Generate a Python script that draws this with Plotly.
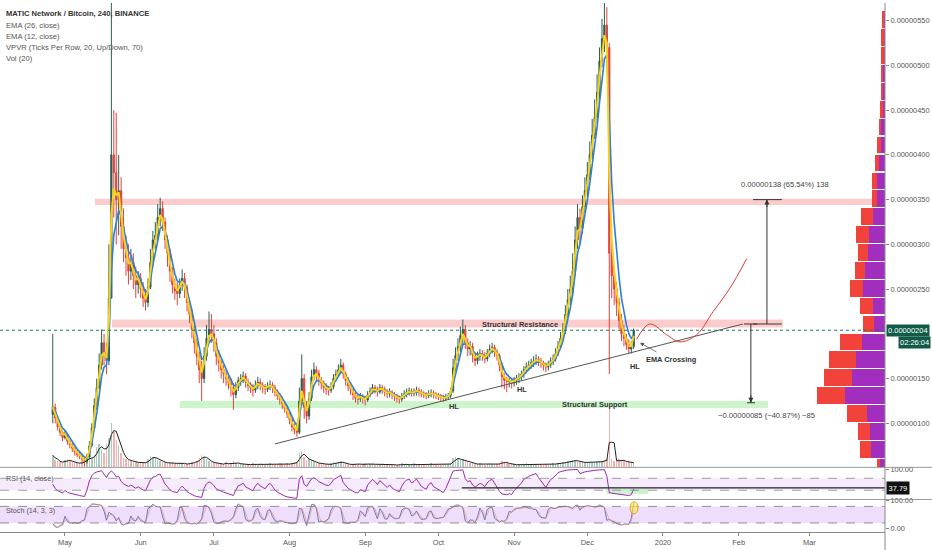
import numpy as np
import pandas as pd
import plotly.graph_objects as go

# ---------------- data (prices in satoshi = 1e-8 BTC) ----------------
SAT = 1e-8
first_date = "2019-04-26"
first_open = 110

closes = [
    118, 106, 96, 90, 84, 88, 80, 76, 72, 68,
    65, 63, 60, 57, 62, 75, 95, 120, 140, 165,
    190, 180, 170, 240, 400, 380, 350, 360, 320, 295,
    285, 270, 280, 265, 255, 262, 250, 240, 235, 252,
    280, 305, 310, 330, 340, 325, 305, 290, 270, 255,
    248, 245, 255, 262, 252, 235, 222, 205, 190, 175,
    160, 150, 175, 195, 205, 200, 190, 175, 168, 160,
    155, 150, 145, 140, 132, 140, 148, 150, 153, 146,
    142, 140, 137, 142, 146, 142, 140, 138, 141, 143,
    140, 135, 131, 127, 122, 117, 111, 104, 96, 93,
    90, 125, 150, 118, 108, 128, 152, 160, 156, 148,
    145, 140, 138, 137, 141, 150, 155, 160, 165, 155,
    148, 142, 138, 132, 128, 127, 130, 128, 126, 132,
    136, 140, 138, 135, 140, 138, 135, 133, 135, 132,
    130, 128, 127, 130, 133, 135, 136, 134, 135, 137,
    135, 133, 132, 131, 133, 134, 132, 131, 130, 129,
    128, 129, 131, 136, 162, 176, 186, 198, 205, 190,
    183, 186, 176, 170, 175, 178, 176, 172, 178, 183,
    185, 180, 176, 165, 152, 148, 147, 148, 145, 148,
    150, 152, 155, 160, 163, 165, 168, 170, 172, 170,
    168, 165, 163, 166, 170, 172, 178, 186, 195, 205,
    222, 238, 250, 270, 305, 330, 318, 342, 360, 378,
    400, 422, 442, 470, 505, 530, 545, 520, 290, 265,
    250, 235, 215, 200, 195, 188, 183, 186, 204,
]
highs = [
    200, 122, 108, 98, 92, 92, 89, 82, 78, 74,
    70, 68, 65, 62, 66, 80, 100, 128, 150, 178,
    205, 200, 190, 300, 640, 450, 447, 400, 375, 340,
    310, 300, 295, 290, 275, 270, 268, 258, 250, 262,
    295, 315, 325, 345, 352, 348, 330, 310, 295, 275,
    262, 258, 262, 272, 268, 255, 240, 228, 210, 195,
    180, 170, 185, 210, 225, 222, 210, 195, 182, 172,
    165, 160, 155, 150, 145, 146, 152, 155, 158, 156,
    150, 146, 144, 148, 152, 150, 146, 144, 146, 148,
    146, 143, 138, 134, 130, 125, 120, 114, 107, 100,
    97, 140, 177, 155, 125, 135, 160, 168, 164, 160,
    152, 148, 145, 142, 146, 155, 160, 166, 172, 168,
    158, 152, 146, 140, 135, 132, 134, 133, 131, 136,
    140, 144, 143, 141, 144, 143, 141, 138, 139, 137,
    135, 133, 131, 134, 137, 139, 140, 139, 139, 141,
    140, 138, 136, 135, 137, 138, 137, 135, 134, 133,
    132, 133, 134, 140, 172, 185, 195, 208, 216, 210,
    195, 192, 190, 180, 180, 183, 182, 180, 183, 188,
    190, 188, 183, 178, 168, 156, 152, 152, 151, 152,
    154, 156, 159, 164, 168, 170, 172, 175, 177, 175,
    173, 170, 168, 170, 174, 177, 184, 192, 202, 212,
    232, 250, 265, 290, 320, 345, 340, 355, 375, 392,
    415, 440, 462, 490, 520, 552, 572, 565, 525, 305,
    275, 258, 240, 222, 210, 200, 194, 192, 206,
]
lows = [
    100, 100, 92, 86, 80, 82, 76, 72, 68, 64,
    62, 60, 56, 52, 55, 60, 74, 94, 115, 138,
    160, 165, 155, 165, 240, 330, 300, 310, 295, 280,
    265, 255, 260, 250, 240, 245, 240, 230, 226, 230,
    250, 275, 295, 305, 320, 315, 295, 275, 258, 245,
    238, 232, 240, 248, 240, 225, 212, 195, 178, 165,
    145, 125, 145, 170, 190, 190, 180, 165, 158, 150,
    145, 142, 138, 130, 115, 128, 136, 142, 145, 140,
    136, 134, 130, 134, 138, 137, 134, 132, 135, 137,
    134, 130, 126, 121, 116, 112, 106, 99, 91, 88,
    85, 88, 120, 105, 100, 104, 125, 148, 148, 142,
    138, 134, 132, 131, 134, 138, 147, 152, 156, 150,
    142, 136, 132, 126, 123, 121, 124, 122, 120, 124,
    129, 133, 133, 130, 133, 133, 130, 128, 129, 127,
    125, 123, 122, 124, 127, 129, 131, 130, 130, 131,
    130, 129, 128, 127, 128, 129, 128, 127, 126, 125,
    124, 125, 126, 128, 134, 158, 170, 180, 188, 183,
    175, 176, 168, 164, 166, 170, 170, 167, 169, 174,
    178, 174, 170, 158, 140, 138, 135, 140, 139, 141,
    143, 145, 148, 151, 156, 159, 161, 163, 165, 164,
    162, 159, 157, 159, 162, 165, 169, 175, 183, 192,
    200, 218, 232, 245, 265, 295, 300, 312, 335, 352,
    372, 395, 418, 435, 462, 498, 515, 500, 155, 240,
    232, 220, 205, 192, 186, 182, 178, 178, 183,
]
volumes = [
    12, 7, 6, 5, 5, 7, 8, 6, 5, 5,
    4, 4, 5, 7, 9, 10, 9, 12, 20, 24,
    18, 14, 24, 30, 45, 36, 28, 22, 14, 9,
    8, 7, 6, 5, 6, 4, 5, 4, 5, 8,
    11, 10, 9, 7, 6, 5, 5, 4, 4, 5,
    3, 4, 5, 4, 3, 3, 4, 5, 5, 6,
    9, 12, 10, 8, 6, 5, 4, 4, 3, 4,
    3, 5, 3, 4, 6, 4, 3, 4, 3, 3,
    2, 3, 4, 3, 2, 4, 3, 2, 3, 4,
    3, 2, 3, 4, 3, 3, 4, 3, 4, 5,
    5, 14, 16, 10, 7, 8, 7, 5, 4, 4,
    3, 4, 3, 2, 4, 5, 4, 5, 6, 4,
    4, 3, 2, 3, 4, 3, 2, 3, 4, 3,
    3, 4, 2, 3, 3, 4, 2, 3, 3, 2,
    3, 2, 3, 4, 2, 3, 3, 2, 4, 3,
    2, 3, 3, 2, 3, 4, 2, 3, 3, 2,
    3, 3, 3, 4, 9, 10, 8, 7, 8, 6,
    5, 4, 4, 3, 3, 4, 3, 2, 3, 4,
    3, 3, 3, 4, 6, 5, 4, 3, 3, 3,
    2, 3, 3, 2, 4, 3, 3, 2, 3, 3,
    3, 2, 3, 3, 3, 4, 3, 4, 4, 5,
    5, 6, 6, 7, 7, 6, 5, 5, 5, 5,
    5, 5, 5, 5, 6, 6, 7, 8, 60, 8,
    6, 6, 8, 7, 6, 5, 5, 5, 4,
]

# volume profile rows (row centre price in sat, up / down volume)
vp_levels = [51, 71, 91, 111, 131, 151, 171, 191, 211, 231, 251, 271, 291,
             311, 331, 351, 371, 391, 411, 431, 451, 471, 491, 511, 531, 551]
vp_up = [5, 14.3, 15, 17.6, 40, 32.6, 29.3, 22.6, 11, 11.6, 22, 20, 16.6,
         16, 12, 7.6, 7.6, 6, 4.3, 3.6, 2.3, 1.8, 1.6, 1.3, 1.3, 1.3]
vp_down = [2.6, 11, 12, 20, 27.6, 28.4, 26.7, 22.4, 10.6, 13.4, 13.3, 10.3, 10,
           13.3, 12.3, 5.7, 5.7, 4, 3.3, 2.4, 2.7, 2.5, 2.7, 2.7, 2.3, 1.3]

month_ticks = ["2019-05-01", "2019-06-01", "2019-07-01", "2019-08-01", "2019-09-01",
               "2019-10-01", "2019-11-01", "2019-12-01", "2020-01-01", "2020-02-01",
               "2020-03-01"]
month_labels = ["May", "Jun", "Jul", "Aug", "Sep", "Oct", "Nov", "Dec", "2020", "Feb", "Mar"]
price_ticks = [100, 150, 250, 300, 350, 400, 450, 500, 550]

# drawn annotations (date, price in sat)
top_zone = ("2019-05-13 07:00", 344, 351)
res_zone = ("2019-05-20 06:00", "2020-02-19 02:00", 207, 216)
sup_zone = ("2019-06-17 02:00", "2020-02-13 00:00", 117, 125)
trend_dates = ["2019-07-26 00:00", "2020-02-02 18:00"]
trend_vals = [77, 211]
proj_dates = ["2019-12-21 05:00", "2019-12-26 14:00", "2020-01-02 12:00", "2020-01-07 22:00",
              "2020-01-14 19:00", "2020-01-21 14:00", "2020-01-28 10:00", "2020-02-04 07:00"]
proj_vals = [194, 211, 199, 191, 199, 225, 251, 284]
hl_dates = ["2019-10-07 10:00", "2019-11-04 02:00", "2019-12-20 12:00"]
hl_vals = [119, 137.5, 164]
RSI_LEVEL = 37.79

# ---------------- indicators ----------------
BARS_PER_DAY = 6
n = len(closes)
dates = pd.date_range(first_date, periods=n, freq="D")
opens = [first_open] + closes[:-1]


def ema(vals, period):
    a = 1 - (1 - 2 / (period + 1)) ** BARS_PER_DAY
    out = [vals[0]]
    for v in vals[1:]:
        out.append(out[-1] + a * (v - out[-1]))
    return out


def rsi(vals, period, bars):
    a = 1 - (1 - 1 / period) ** bars
    ag, al = 4.0, 4.0
    out = [50.0]
    for i in range(1, len(vals)):
        ch = vals[i] - vals[i - 1]
        ag += a * (max(ch, 0) - ag)
        al += a * (max(-ch, 0) - al)
        out.append(100 - 100 / (1 + ag / al) if al > 0 else 100.0)
    return out


ema12 = ema(closes, 12)
ema26 = ema(closes, 26)
rsi_vals = rsi(closes, 14, 3)
LOOK = 3
k_vals = []
for i in range(n):
    lo = min(lows[max(0, i - LOOK + 1): i + 1])
    hi = max(highs[max(0, i - LOOK + 1): i + 1])
    k_vals.append(100 * (closes[i] - lo) / (hi - lo) if hi > lo else 50.0)
d_vals = pd.Series(k_vals).rolling(2, min_periods=1).mean().tolist()
vol_ma = pd.Series(volumes).rolling(3, min_periods=1).mean().tolist()
vol_colors = ["rgba(70,140,110,0.45)" if c >= o else "rgba(239,83,80,0.45)"
              for o, c in zip(opens, closes)]

s = lambda arr: [v * SAT for v in arr]

# ---------------- figure ----------------
PH = 532.0          # plot height px
PW = 885.0          # plot width px
py = lambda p: 1 - p / PH
pxp = lambda p: p / PW
X_LEFT, X_RIGHT = "2019-04-04 09:00", "2020-03-31 23:00"
FONT = "Liberation Sans"

fig = go.Figure()

# volume profile (behind candles)
fig.add_trace(go.Bar(y=s(vp_levels), x=vp_up, orientation="h", xaxis="x2", yaxis="y",
                     marker=dict(color="#a12ebd", line=dict(width=0)), width=18.6 * SAT,
                     hoverinfo="skip"))
fig.add_trace(go.Bar(y=s(vp_levels), x=vp_down, orientation="h", xaxis="x2", yaxis="y",
                     marker=dict(color="#f1433a", line=dict(width=0)), width=18.6 * SAT,
                     hoverinfo="skip"))

# volume
fig.add_trace(go.Bar(x=dates, y=volumes, xaxis="x", yaxis="y4", marker_color=vol_colors,
                     marker_line_width=0, width=86400000 * 0.6, hoverinfo="skip"))
fig.add_trace(go.Scatter(x=dates, y=vol_ma, xaxis="x", yaxis="y4", mode="lines",
                         line=dict(color="#222", width=1), hoverinfo="skip"))

# candles
fig.add_trace(go.Candlestick(x=dates, open=s(opens), high=s(highs), low=s(lows), close=s(closes),
                             xaxis="x", yaxis="y",
                             increasing=dict(line=dict(color="#2f5d4c", width=1), fillcolor="#2f5d4c"),
                             decreasing=dict(line=dict(color="#e0413b", width=1), fillcolor="#e0413b"),
                             whiskerwidth=0))
fig.add_trace(go.Scatter(x=dates, y=s(ema26), mode="lines", line=dict(color="#2a7de1", width=1.6),
                         xaxis="x", yaxis="y", hoverinfo="skip"))
fig.add_trace(go.Scatter(x=dates, y=s(ema12), mode="lines", line=dict(color="#f6d318", width=2),
                         xaxis="x", yaxis="y", hoverinfo="skip"))

# trend line and projection
fig.add_trace(go.Scatter(x=trend_dates, y=s(trend_vals), mode="lines",
                         line=dict(color="#555", width=1), xaxis="x", yaxis="y"))
fig.add_trace(go.Scatter(x=proj_dates, y=s(proj_vals), mode="lines", line_shape="spline",
                         line=dict(color="#e53935", width=1), xaxis="x", yaxis="y"))

# RSI and stochastic
fig.add_trace(go.Scatter(x=dates, y=rsi_vals, mode="lines", line=dict(color="#9c27b0", width=1),
                         xaxis="x", yaxis="y2"))
fig.add_trace(go.Scatter(x=dates, y=k_vals, mode="lines", line=dict(color="#4a5fc1", width=0.8),
                         xaxis="x", yaxis="y3"))
fig.add_trace(go.Scatter(x=dates, y=d_vals, mode="lines", line=dict(color="#e8894a", width=0.7),
                         opacity=0.8, xaxis="x", yaxis="y3"))

shapes = []
shapes.append(dict(type="rect", xref="x", yref="y", x0=top_zone[0], x1=X_RIGHT,
                   y0=top_zone[1] * SAT, y1=top_zone[2] * SAT,
                   fillcolor="rgba(242,120,120,0.38)", line_width=0, layer="below"))
shapes.append(dict(type="rect", xref="x", yref="y", x0=res_zone[0], x1=res_zone[1],
                   y0=res_zone[2] * SAT, y1=res_zone[3] * SAT,
                   fillcolor="rgba(242,120,120,0.38)", line_width=0, layer="below"))
shapes.append(dict(type="rect", xref="x", yref="y", x0=sup_zone[0], x1=sup_zone[1],
                   y0=sup_zone[2] * SAT, y1=sup_zone[3] * SAT,
                   fillcolor="rgba(120,230,120,0.38)", line_width=0, layer="below"))
# last price dotted line
shapes.append(dict(type="line", xref="x", yref="y", x0=X_LEFT, x1=X_RIGHT,
                   y0=closes[-1] * SAT, y1=closes[-1] * SAT,
                   line=dict(color="#1f7a60", width=1, dash="dot")))
# rulers
up_x, dn_x = "2020-02-12 14:00", "2020-02-06 00:00"
shapes.append(dict(type="line", xref="x", yref="y", x0=up_x, x1=up_x, y0=211 * SAT, y1=350 * SAT,
                   line=dict(color="#333", width=1)))
shapes.append(dict(type="line", xref="x", yref="y", x0="2020-02-06 22:00", x1="2020-02-18 17:00",
                   y0=211 * SAT, y1=211 * SAT, line=dict(color="#333", width=1)))
shapes.append(dict(type="line", xref="x", yref="y", x0="2020-02-06 22:00", x1="2020-02-18 17:00",
                   y0=350 * SAT, y1=350 * SAT, line=dict(color="#333", width=1)))
shapes.append(dict(type="line", xref="x", yref="y", x0=dn_x, x1=dn_x, y0=211 * SAT, y1=123 * SAT,
                   line=dict(color="#333", width=1)))
shapes.append(dict(type="line", xref="x", yref="y", x0="2020-02-03 05:00", x1="2020-02-08 12:00",
                   y0=211 * SAT, y1=211 * SAT, line=dict(color="#333", width=1)))
shapes.append(dict(type="line", xref="x", yref="y", x0="2020-02-04 10:00", x1="2020-02-07 17:00",
                   y0=123 * SAT, y1=123 * SAT, line=dict(color="#333", width=1)))
# RSI band
shapes.append(dict(type="rect", xref="x", yref="y2", x0=X_LEFT, x1=X_RIGHT, y0=30, y1=70,
                   fillcolor="rgba(153,60,230,0.10)", line_width=0, layer="below"))
for lv in (30, 70):
    shapes.append(dict(type="line", xref="x", yref="y2", x0=X_LEFT, x1=X_RIGHT, y0=lv, y1=lv,
                       line=dict(color="#888", width=0.8, dash="dash")))
shapes.append(dict(type="rect", xref="x", yref="y2", x0="2019-12-08 19:00", x1="2019-12-26 00:00",
                   y0=17, y1=33, fillcolor="rgba(110,220,110,0.35)", line_width=0, layer="below"))
shapes.append(dict(type="line", xref="x", yref="y2", x0="2019-10-10 14:00", x1=X_RIGHT,
                   y0=RSI_LEVEL, y1=RSI_LEVEL, line=dict(color="#222", width=1.2)))
# Stoch band
shapes.append(dict(type="rect", xref="x", yref="y3", x0=X_LEFT, x1=X_RIGHT, y0=20, y1=80,
                   fillcolor="rgba(153,60,230,0.17)", line_width=0, layer="below"))
for lv in (20, 80):
    shapes.append(dict(type="line", xref="x", yref="y3", x0=X_LEFT, x1=X_RIGHT, y0=lv, y1=lv,
                       line=dict(color="#777", width=0.8, dash="dash")))
shapes.append(dict(type="circle", xref="x", yref="y3", x0="2019-12-18 12:00", x1="2019-12-21 18:00",
                   y0=53, y1=97, fillcolor="rgba(255,232,80,0.6)", line=dict(color="#e8a020", width=1)))
# pane separators and price-axis line
for yy in (467, 499.3):
    shapes.append(dict(type="line", xref="paper", yref="paper", x0=0, x1=932 / PW, y0=py(yy), y1=py(yy),
                       line=dict(color="#9a9a9a", width=1)))
shapes.append(dict(type="line", xref="paper", yref="paper", x0=1, x1=1, y0=py(550), y1=1,
                   line=dict(color="#8a8a8a", width=1)))

ann = []
legend_lines = ["<b>MATIC Network / Bitcoin, 240, BINANCE</b>", "EMA (26, close)", "EMA (12, close)",
                "VPVR (Ticks Per Row, 20, Up/Down, 70)", "Vol (20)"]
for i, t in enumerate(legend_lines):
    ann.append(dict(text=t, xref="paper", yref="paper", x=pxp(4), y=py(11 + 11.25 * i),
                    xanchor="left", yanchor="middle", showarrow=False,
                    font=dict(family=FONT, size=7.6, color="#333" if i == 0 else "#555")))
ann.append(dict(text="RSI (14, close)", xref="paper", yref="paper", x=pxp(4), y=py(478.5),
                xanchor="left", yanchor="middle", showarrow=False,
                font=dict(family=FONT, size=7.2, color="#555")))
ann.append(dict(text="Stoch (14, 3, 3)", xref="paper", yref="paper", x=pxp(4), y=py(510.5),
                xanchor="left", yanchor="middle", showarrow=False,
                font=dict(family=FONT, size=7.2, color="#555")))
# price / time / RSI badges on the axis
ann.append(dict(text=f"{closes[-1] * SAT:.8f}", xref="paper", yref="paper", x=pxp(885.5), y=py(329),
                xanchor="left", yanchor="middle", showarrow=False, bgcolor="#0f5b48",
                font=dict(family=FONT, size=7.5, color="white"), borderpad=1))
ann.append(dict(text="02:26:04", xref="paper", yref="paper", x=931 / PW, y=py(341.5),
                xanchor="right", yanchor="middle", showarrow=False, bgcolor="#0f5b48",
                font=dict(family=FONT, size=7.5, color="white"), borderpad=1))
ann.append(dict(text=f"{RSI_LEVEL:.2f}", xref="paper", yref="paper", x=pxp(886), y=py(487.5),
                xanchor="left", yanchor="middle", showarrow=False, bgcolor="#111",
                font=dict(family=FONT, size=7.5, color="white"), borderpad=1.5))
# chart texts
ann.append(dict(text="<b>Structural Resistance</b>", x="2019-11-03 14:00", y=211 * SAT, xref="x", yref="y",
                showarrow=False, font=dict(family=FONT, size=7.4, color="#333")))
ann.append(dict(text="<b>Structural Support</b>", x="2019-12-04 02:00", y=121.3 * SAT, xref="x", yref="y",
                showarrow=False, font=dict(family=FONT, size=7.4, color="#333")))
for d_, v_ in zip(hl_dates, hl_vals):
    ann.append(dict(text="<b>HL</b>", x=d_, y=v_ * SAT, xref="x", yref="y", showarrow=False,
                    font=dict(family=FONT, size=7.4, color="#333")))
ann.append(dict(text="<b>EMA Crossing</b>", x="2020-01-04 07:00", y=170.8 * SAT, xref="x", yref="y",
                showarrow=False, font=dict(family=FONT, size=7.4, color="#333")))
ann.append(dict(text="", x="2019-12-22 14:00", y=190 * SAT, xref="x", yref="y", showarrow=True,
                ax=18, ay=10, arrowhead=2, arrowsize=1, arrowwidth=0.8, arrowcolor="#555"))
ann.append(dict(text="0.00000138 (65.54%) 138", x="2020-02-20 00:00", y=367.4 * SAT, xref="x", yref="y",
                showarrow=False, font=dict(family=FONT, size=7.6, color="#444")))
ann.append(dict(text="\u22120.00000085 (\u221240.87%) \u221285", x="2020-02-12 05:00", y=108.6 * SAT,
                xref="x", yref="y", showarrow=False, font=dict(family=FONT, size=7.6, color="#444")))
ann.append(dict(text="", x=up_x, y=350 * SAT, xref="x", yref="y", showarrow=True, ax=0, ay=9,
                arrowhead=2, arrowsize=1, arrowwidth=1, arrowcolor="#333"))
ann.append(dict(text="", x=dn_x, y=123 * SAT, xref="x", yref="y", showarrow=True, ax=0, ay=-9,
                arrowhead=2, arrowsize=1, arrowwidth=1, arrowcolor="#333"))

tickfont = dict(family=FONT, size=7.4, color="#555")
fig.update_layout(
    width=932, height=550,
    margin=dict(l=0, r=47, t=0, b=18),
    paper_bgcolor="white", plot_bgcolor="white",
    showlegend=False, barmode="stack", hovermode=False,
    shapes=shapes, annotations=ann,
    xaxis=dict(type="date", range=[X_LEFT, X_RIGHT], tickvals=month_ticks, ticktext=month_labels,
               ticks="outside", ticklen=3, tickcolor="#888", showline=True, linecolor="#8a8a8a",
               showgrid=False, zeroline=False, anchor="y3", tickfont=tickfont,
               rangeslider=dict(visible=False)),
    xaxis2=dict(overlaying="x", range=[885, 0], visible=False, anchor="y"),
    yaxis=dict(domain=[py(467), 1], range=[50.8 * SAT, 569.7 * SAT], side="right", anchor="x",
               tickformat=".8f", tickvals=s(price_ticks), ticks="outside", ticklen=3,
               tickcolor="#888", showgrid=False, zeroline=False, tickfont=tickfont),
    yaxis2=dict(domain=[py(499.3), py(467)], range=[-1, 106.7], side="right", anchor="x",
                tickvals=[100], ticktext=["100.00"], ticks="outside", ticklen=3, tickcolor="#888",
                showgrid=False, zeroline=False, tickfont=tickfont),
    yaxis3=dict(domain=[0, py(499.3)], range=[-12.6, 105], side="right", anchor="x",
                tickvals=[0, 100], ticktext=["0.00", "100.00"], ticks="outside", ticklen=3,
                tickcolor="#888", showgrid=False, zeroline=False, tickfont=tickfont),
    yaxis4=dict(overlaying="y", range=[0, 467], visible=False, anchor="x"),
)

fig.write_html("out.html", config={"displayModeBar": False},
               post_script="document.body.style.margin='0';")
